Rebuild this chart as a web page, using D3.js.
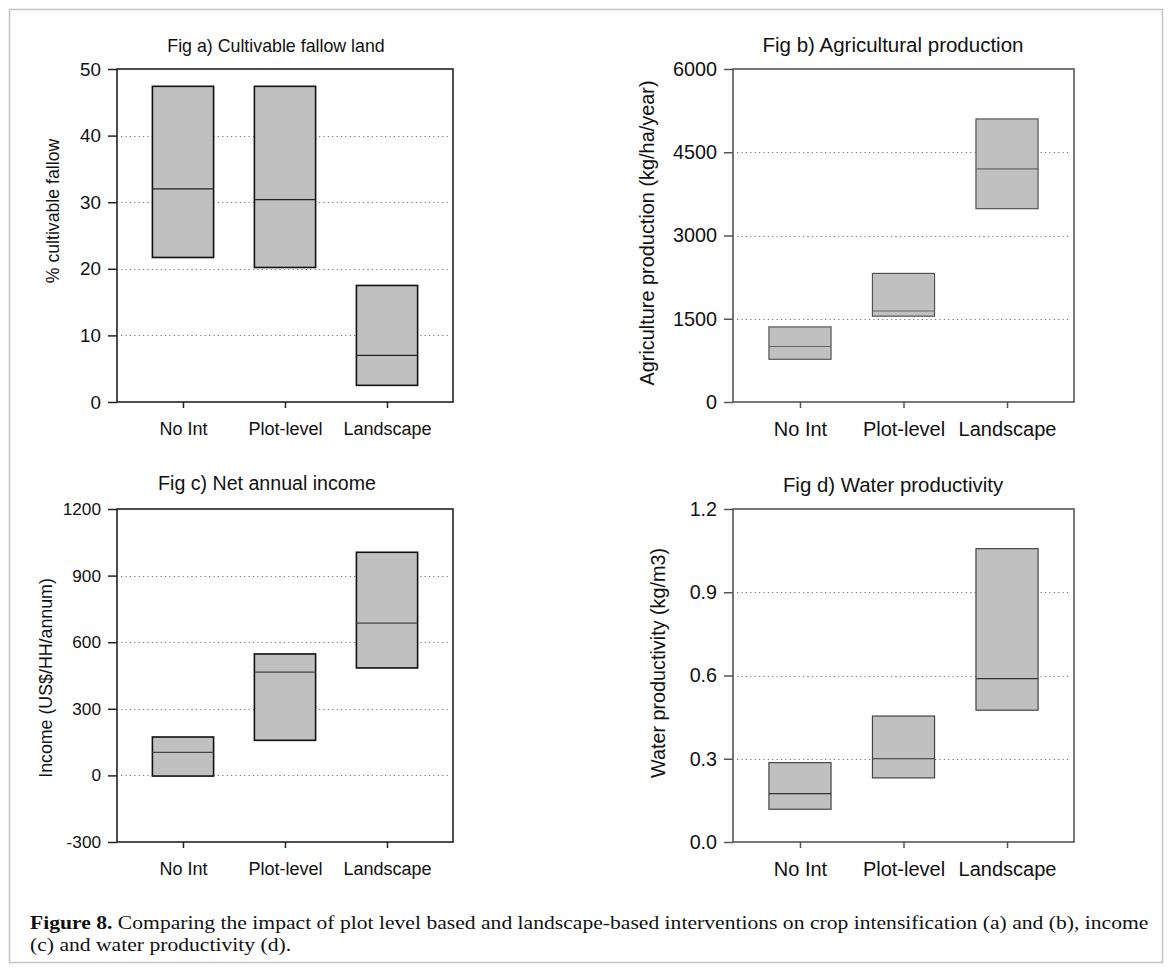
<!DOCTYPE html>
<html>
<head>
<meta charset="utf-8">
<script src="https://cdn.jsdelivr.net/npm/d3@7/dist/d3.min.js"></script>
<style>
  html, body { margin: 0; padding: 0; background: #fff; }
  svg { display: block; }
  text { font-family: "Liberation Sans", Arial, sans-serif; fill: #111; }
</style>
</head>
<body>
<svg id="fig" width="1170" height="971"></svg>
<script>
// Intervention types shown on every panel
const categories = ["No Int", "Plot-level", "Landscape"];

// (a) cultivable fallow land, %
const fallowLow  = [21.7, 20.2, 2.5];
const fallowMid  = [32.0, 30.4, 7.0];
const fallowHigh = [47.4, 47.4, 17.5];
const fallowTicks = [0, 10, 20, 30, 40, 50];
const fallowGrid  = [10, 20, 30, 40];

// (b) agricultural production, kg/ha/year
const prodLow  = [770, 1546, 3483];
const prodMid  = [1000, 1640, 4200];
const prodHigh = [1353, 2317, 5100];
const prodTicks = [0, 1500, 3000, 4500, 6000];
const prodGrid  = [1500, 3000, 4500];

// (c) net annual income, US$/HH/annum
const incomeLow  = [-3, 158, 484];
const incomeMid  = [104, 465, 686];
const incomeHigh = [173, 547, 1005];
const incomeTicks = [-300, 0, 300, 600, 900, 1200];
const incomeGrid  = [0, 300, 600, 900];

// (d) water productivity, kg/m3
const waterLow  = [0.118, 0.231, 0.475];
const waterMid  = [0.174, 0.300, 0.589];
const waterHigh = [0.286, 0.454, 1.057];
const waterTicks = [0, 0.3, 0.6, 0.9, 1.2];
const waterGrid  = [0.3, 0.6, 0.9];

// plain hyphen for negatives, as in the printed figure
const intFmt = d => String(d);
const oneDec = d => d.toFixed(1);

const panels = [
  { title: "Fig a) Cultivable fallow land", ylabel: "% cultivable fallow",
    low: fallowLow, mid: fallowMid, high: fallowHigh, ticks: fallowTicks, grid: fallowGrid,
    fmt: intFmt, x0: 117, x1: 453, y0: 69, y1: 402,
    titleX: 276, titleY: 52, labelX: 53, labelY: 211,
    titleSize: 17.8, labelSize: 17.7, tickSize: 18.8, catSize: 18,
    frame: "#222", boxStroke: "#111", boxWidth: 1.6, midStroke: "#222", midWidth: 1.3 },
  { title: "Fig b) Agricultural production", ylabel: "Agriculture production (kg/ha/year)",
    low: prodLow, mid: prodMid, high: prodHigh, ticks: prodTicks, grid: prodGrid,
    fmt: intFmt, x0: 733, x1: 1074, y0: 69, y1: 402,
    titleX: 893, titleY: 52, labelX: 647, labelY: 233,
    titleSize: 20.5, labelSize: 19.9, tickSize: 19.8, catSize: 20,
    frame: "#555", boxStroke: "#555", boxWidth: 1.2, midStroke: "#666", midWidth: 1.2 },
  { title: "Fig c) Net annual income", ylabel: "Income (US$/HH/annum)",
    low: incomeLow, mid: incomeMid, high: incomeHigh, ticks: incomeTicks, grid: incomeGrid,
    fmt: intFmt, x0: 117, x1: 453, y0: 509, y1: 842,
    titleX: 267, titleY: 490, labelX: 46, labelY: 678,
    titleSize: 19.6, labelSize: 17.8, tickSize: 17.2, catSize: 18,
    frame: "#222", boxStroke: "#111", boxWidth: 1.6, midStroke: "#444", midWidth: 1.2 },
  { title: "Fig d) Water productivity", ylabel: "Water productivity (kg/m3)",
    low: waterLow, mid: waterMid, high: waterHigh, ticks: waterTicks, grid: waterGrid,
    fmt: oneDec, x0: 733, x1: 1074, y0: 509, y1: 842,
    titleX: 893, titleY: 492, labelX: 658, labelY: 663,
    titleSize: 20.4, labelSize: 19.8, tickSize: 19.7, catSize: 20,
    frame: "#555", boxStroke: "#444", boxWidth: 1.2, midStroke: "#333", midWidth: 1.2 }
];

const svg = d3.select("#fig");

// outer figure frame
svg.append("rect")
  .attr("x", 9.5).attr("y", 9.5).attr("width", 1153).attr("height", 953)
  .attr("fill", "none").attr("stroke", "#c4c4c4").attr("stroke-width", 1.5);

panels.forEach(p => {
  const g = svg.append("g");
  const x = d3.scalePoint().domain(categories).range([p.x0, p.x1]).padding(0.647);
  const y = d3.scaleLinear()
    .domain([p.ticks[0], p.ticks[p.ticks.length - 1]])
    .range([p.y1, p.y0]);
  const boxW = x.step() * 0.6;

  // dotted grid lines
  g.selectAll("line.grid").data(p.grid).join("line")
    .attr("class", "grid")
    .attr("x1", p.x0 + 4).attr("x2", p.x1 - 3)
    .attr("y1", d => Math.round(y(d)) + 0.5).attr("y2", d => Math.round(y(d)) + 0.5)
    .attr("stroke", "#777").attr("stroke-width", 1)
    .attr("stroke-dasharray", "1.2,3.2");

  // range boxes
  const data = categories.map((c, i) => ({ c, lo: p.low[i], mid: p.mid[i], hi: p.high[i] }));
  g.selectAll("rect.box").data(data).join("rect")
    .attr("class", "box")
    .attr("x", d => x(d.c) - boxW / 2)
    .attr("width", boxW)
    .attr("y", d => y(d.hi))
    .attr("height", d => y(d.lo) - y(d.hi))
    .attr("fill", "#c0c0c0")
    .attr("stroke", p.boxStroke).attr("stroke-width", p.boxWidth);

  // median lines
  g.selectAll("line.mid").data(data).join("line")
    .attr("class", "mid")
    .attr("x1", d => x(d.c) - boxW / 2).attr("x2", d => x(d.c) + boxW / 2)
    .attr("y1", d => y(d.mid)).attr("y2", d => y(d.mid))
    .attr("stroke", p.midStroke).attr("stroke-width", p.midWidth);

  // plot frame
  g.append("rect")
    .attr("x", p.x0).attr("y", p.y0)
    .attr("width", p.x1 - p.x0).attr("height", p.y1 - p.y0)
    .attr("fill", "none").attr("stroke", p.frame).attr("stroke-width", 1.6);

  // y axis
  const ya = d3.axisLeft(y).tickValues(p.ticks).tickFormat(p.fmt)
    .tickSize(9).tickPadding(7);
  const yg = g.append("g").attr("transform", `translate(${p.x0},0)`).call(ya);
  yg.select(".domain").remove();
  yg.selectAll(".tick line").attr("stroke", p.frame).attr("stroke-width", 1.5);
  yg.selectAll(".tick text")
    .style("font-family", '"Liberation Sans", Arial, sans-serif')
    .style("font-size", p.tickSize + "px").attr("fill", "#111");

  // x axis
  const xa = d3.axisBottom(x).tickSize(6).tickPadding(14);
  const xg = g.append("g").attr("transform", `translate(0,${p.y1})`).call(xa);
  xg.select(".domain").remove();
  xg.selectAll(".tick line").attr("stroke", p.frame).attr("stroke-width", 1.5);
  xg.selectAll(".tick text")
    .style("font-family", '"Liberation Sans", Arial, sans-serif')
    .style("font-size", p.catSize + "px").attr("fill", "#111");

  // title
  g.append("text")
    .attr("x", p.titleX).attr("y", p.titleY)
    .attr("text-anchor", "middle")
    .style("font-size", p.titleSize + "px")
    .text(p.title);

  // y label
  g.append("text")
    .attr("transform", `translate(${p.labelX},${p.labelY}) rotate(-90)`)
    .attr("text-anchor", "middle").attr("dy", "0.35em")
    .style("font-size", p.labelSize + "px")
    .text(p.ylabel);
});

// caption
const cap = svg.append("g").attr("class", "caption");
const capFont = '"Liberation Serif", "Times New Roman", serif';
const line1 = cap.append("text").attr("x", 0).attr("y", 0)
  .style("font-family", capFont).style("font-size", "19px").attr("fill", "#111");
line1.append("tspan").style("font-weight", "bold").text("Figure 8.");
line1.append("tspan").text(" Comparing the impact of plot level based and landscape-based interventions on crop intensification (a) and (b), income");
const line2 = cap.append("text").attr("x", 0).attr("y", 22)
  .style("font-family", capFont).style("font-size", "19px").attr("fill", "#111")
  .text("(c) and water productivity (d).");
const natural = line1.node().getComputedTextLength();
const sx = 1119 / natural;
cap.attr("transform", `translate(30,929) scale(${sx},1)`);
</script>
</body>
</html>
